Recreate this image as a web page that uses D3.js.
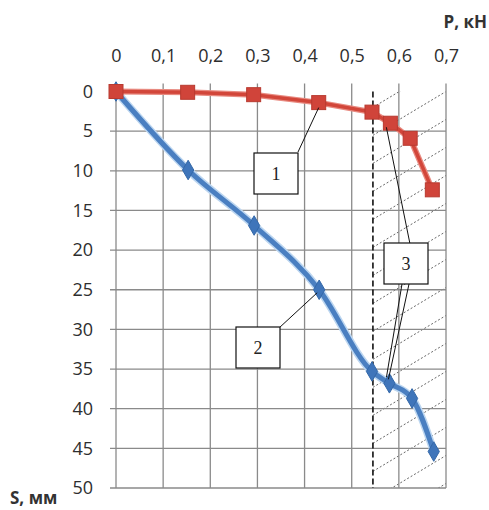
<!DOCTYPE html>
<html>
<head>
<meta charset="utf-8">
<script src="https://cdn.jsdelivr.net/npm/d3@7"></script>
<style>
body { margin: 0; background: #fff; }
text { font-family: "Open Sans", sans-serif; }
.tick text { font-size: 18px; fill: #2e2e2e; font-family: "Open Sans", sans-serif; }
.title { font-size: 17px; font-weight: bold; fill: #333; }
.num { font-family: "Liberation Serif", serif; font-size: 18px; fill: #222; }
</style>
</head>
<body>
<script>
// data
var pTicks = [0, 0.1, 0.2, 0.3, 0.4, 0.5, 0.6, 0.7];
var pLabels = ["0", "0,1", "0,2", "0,3", "0,4", "0,5", "0,6", "0,7"];
var sTicks = [0, 5, 10, 15, 20, 25, 30, 35, 40, 45, 50];

var redP = [0, 0.152, 0.292, 0.43, 0.543, 0.582, 0.624, 0.671];
var redS = [0, 0.1, 0.4, 1.4, 2.6, 4.0, 5.9, 12.4];

var blueP = [0, 0.153, 0.293, 0.431, 0.543, 0.58, 0.628, 0.674];
var blueS = [0, 9.9, 16.9, 25.0, 35.3, 36.8, 38.7, 45.4];

var limitP = 0.545;

var width = 489, height = 510;

var svg = d3.select("body").append("svg")
    .attr("width", width)
    .attr("height", height);

var x = d3.scaleLinear().domain([0, 0.7]).range([116, 446]);
var y = d3.scaleLinear().domain([0, 50]).range([91.5, 488]);

//hatched zone
var defs = svg.append("defs");
defs.append("clipPath").attr("id", "zone")
    .append("rect")
    .attr("x", x(limitP)).attr("y", y(0))
    .attr("width", x(0.7) - x(limitP)).attr("height", y(50) - y(0));

var hatch = svg.append("g").attr("clip-path", "url(#zone)");
var slope = 0.6;
for (var k = -6; k < 20; k++) {
  var y0 = y(0) + k * 28;
  hatch.append("line")
      .attr("x1", x(limitP)).attr("y1", y0 + (x(0.7) - x(limitP)) * slope)
      .attr("x2", x(0.7)).attr("y2", y0)
      .attr("stroke", "#555")
      .attr("stroke-width", 0.9)
      .attr("stroke-dasharray", "2,2");
}

//grid
svg.append("g").selectAll("line").data(pTicks.slice(1)).enter().append("line")
    .attr("x1", function(d) { return x(d); })
    .attr("x2", function(d) { return x(d); })
    .attr("y1", y(0) - 8)
    .attr("y2", y(50))
    .attr("stroke", "#8a8a8a")
    .attr("stroke-width", 1.3);

svg.append("g").selectAll("line").data(sTicks.slice(1)).enter().append("line")
    .attr("x1", x(0) - 6)
    .attr("x2", x(0.7))
    .attr("y1", function(d) { return y(d); })
    .attr("y2", function(d) { return y(d); })
    .attr("stroke", "#8a8a8a")
    .attr("stroke-width", 1.3);

// axes
var xAxis = d3.axisTop(x).tickValues(pTicks)
    .tickFormat(function(d, i) { return pLabels[i]; })
    .tickSize(0).tickPadding(0);
var gx = svg.append("g").attr("transform", "translate(0,62)").call(xAxis);
gx.select(".domain").remove();

var yAxis = d3.axisLeft(y).tickValues(sTicks).tickSize(0).tickPadding(0);
var gy = svg.append("g").attr("transform", "translate(93,0)").call(yAxis);
gy.select(".domain").remove();

svg.append("line")
    .attr("x1", x(0)).attr("x2", x(0))
    .attr("y1", y(0)).attr("y2", y(50))
    .attr("stroke", "#8a8a8a").attr("stroke-width", 1.3);

// dashed limit line
svg.append("line")
    .attr("x1", x(limitP)).attr("x2", x(limitP))
    .attr("y1", y(0)).attr("y2", y(50))
    .attr("stroke", "#111").attr("stroke-width", 1.6)
    .attr("stroke-dasharray", "6,3");

// axis titles
svg.append("text").attr("class", "title").attr("x", 487).attr("y", 28)
    .attr("text-anchor", "end")
    .text("P, кН");
svg.append("text").attr("class", "title").attr("x", 10).attr("y", 504)
    .text("S, мм");

// curves
var red = redP.map(function(p, i) { return [p, redS[i]]; });
var blue = blueP.map(function(p, i) { return [p, blueS[i]]; });

var redLine = d3.line().x(function(d) { return x(d[0]); }).y(function(d) { return y(d[1]); });
var blueLine = d3.line().curve(d3.curveMonotoneX)
    .x(function(d) { return x(d[0]); }).y(function(d) { return y(d[1]); });

svg.append("path").datum(blue).attr("d", blueLine)
    .attr("fill", "none").attr("stroke", "#bcd6f0").attr("stroke-width", 8);
svg.append("path").datum(blue).attr("d", blueLine)
    .attr("fill", "none").attr("stroke", "#4a7fc1").attr("stroke-width", 5);

svg.append("g").selectAll("path").data(blue).enter().append("path")
    .attr("d", d3.symbol().type(d3.symbolDiamond).size(110))
    .attr("transform", function(d) { return "translate(" + x(d[0]) + "," + y(d[1]) + ")"; })
    .attr("fill", "#3f75ba").attr("stroke", "#3468a8").attr("stroke-width", 1);

svg.append("path").datum(red).attr("d", redLine)
    .attr("fill", "none").attr("stroke", "#e88a80").attr("stroke-width", 6);
svg.append("path").datum(red).attr("d", redLine)
    .attr("fill", "none").attr("stroke", "#d2463a").attr("stroke-width", 3.5);

svg.append("g").selectAll("rect").data(red).enter().append("rect")
    .attr("x", function(d) { return x(d[0]) - 7; })
    .attr("y", function(d) { return y(d[1]) - 7; })
    .attr("width", 14).attr("height", 14)
    .attr("fill", "#d0443a").attr("stroke", "#b83a30").attr("stroke-width", 1);

// callouts
var lbl = svg.append("g");
function leader(x1, y1, x2, y2) {
  lbl.append("line").attr("x1", x1).attr("y1", y1).attr("x2", x2).attr("y2", y2)
      .attr("stroke", "#111").attr("stroke-width", 1);
}
function box(x0, y0, t) {
  lbl.append("rect").attr("x", x0).attr("y", y0).attr("width", 44).attr("height", 41)
      .attr("fill", "#fff").attr("stroke", "#111").attr("stroke-width", 1.2);
  lbl.append("text").attr("class", "num").attr("x", x0 + 22).attr("y", y0 + 27)
      .attr("text-anchor", "middle")
      .text(t);
}
leader(298, 152, x(redP[3]), y(redS[3]) + 5);
leader(279, 328, x(blueP[3]) - 2, y(blueS[3]) + 3);
leader(410, 244, x(redP[5]) - 4, y(redS[5]) + 4);
leader(402, 284, x(blueP[5]) - 3, y(blueS[5]) - 6);
leader(409, 284, x(blueP[5]) - 1, y(blueS[5]) - 4);
box(254, 153, "1");
box(236, 327, "2");
box(384, 243, "3");
</script>
</body>
</html>
